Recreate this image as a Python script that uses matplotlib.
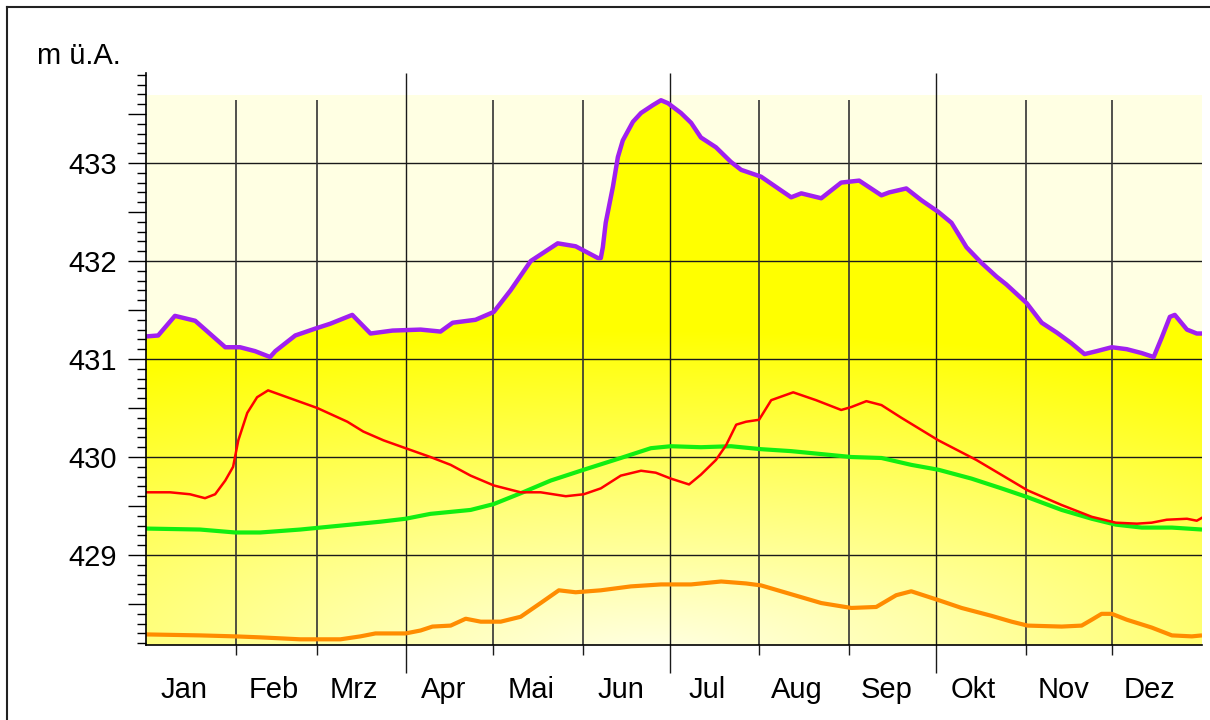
import numpy as np
import matplotlib
matplotlib.use('Agg')
import matplotlib.pyplot as plt
from matplotlib.patches import Polygon
from matplotlib.lines import Line2D
from matplotlib.ticker import FixedLocator, FuncFormatter
import matplotlib.transforms as mtransforms

plt.rcParams['font.family'] = ['Liberation Sans', 'DejaVu Sans']

# months (German)
months = ['Jan', 'Feb', 'Mrz', 'Apr', 'Mai', 'Jun', 'Jul', 'Aug', 'Sep', 'Okt', 'Nov', 'Dez']
month_starts = [0, 31, 59, 90, 120, 151, 181, 212, 243, 273, 304, 334, 365]
quarter_starts = [90, 181, 273]

# maximum water level (purple), day of year / m ü.A.
max_days = [0, 4.2, 10.0, 17.0, 27.4, 32.5, 37.7, 42.9, 44.7, 51.6, 58.5, 63.7, 71.3,
            77.6, 85.2, 94.9, 101.8, 106.0, 113.9, 120.2, 126.0, 133.0, 142.3, 148.5,
            156.2, 157.2, 157.9, 158.9, 161.4, 163.1, 164.8, 168.3, 171.1, 175.2, 178.0,
            180.4, 184.9, 188.4, 191.8, 197.0, 202.2, 205.7, 212.6, 219.5, 223.0, 226.5,
            233.4, 240.3, 246.5, 254.2, 256.9, 262.8, 268.0, 273.9, 278.4, 283.6, 288.8,
            294.0, 297.4, 304.4, 309.6, 314.8, 319.9, 324.4, 328.6, 333.8, 339.0, 344.2,
            348.3, 351.1, 353.9, 355.6, 359.8, 363.2, 365]
max_vals = [431.23, 431.24, 431.44, 431.39, 431.12, 431.12, 431.08, 431.02, 431.08,
            431.24, 431.31, 431.36, 431.45, 431.26, 431.29, 431.30, 431.28, 431.37,
            431.40, 431.48, 431.70, 432.00, 432.18, 432.15, 432.03, 432.03, 432.14,
            432.39, 432.76, 433.06, 433.23, 433.42, 433.51, 433.59, 433.64, 433.61,
            433.51, 433.41, 433.26, 433.16, 433.01, 432.93, 432.86, 432.72, 432.65,
            432.69, 432.64, 432.80, 432.82, 432.67, 432.70, 432.74, 432.62, 432.50,
            432.39, 432.14, 431.98, 431.84, 431.76, 431.57, 431.37, 431.27, 431.16,
            431.05, 431.08, 431.12, 431.10, 431.06, 431.02, 431.22, 431.43, 431.45,
            431.30, 431.26, 431.26]

# current year (red)
cur_days = [0, 8.3, 15.2, 20.4, 23.9, 27.4, 30.1, 31.9, 35.0, 38.4, 42.2, 48.8, 59.2,
            69.6, 75.1, 82.1, 89.7, 98.3, 105.3, 112.2, 120.2, 129.5, 136.4, 145.1,
            151.3, 157.2, 164.1, 171.1, 176.2, 181.4, 187.7, 191.8, 197.0, 200.5, 204.0,
            207.4, 211.9, 216.1, 223.7, 231.6, 240.3, 243.8, 249.0, 254.2, 261.1, 273.9,
            287.0, 304.7, 316.5, 326.9, 335.2, 342.5, 347.6, 352.8, 359.8, 363.2, 365]
cur_vals = [429.64, 429.64, 429.62, 429.58, 429.62, 429.76, 429.90, 430.17, 430.45,
            430.61, 430.68, 430.61, 430.50, 430.36, 430.26, 430.17, 430.09, 430.00,
            429.92, 429.81, 429.71, 429.64, 429.64, 429.60, 429.62, 429.68, 429.81,
            429.86, 429.84, 429.78, 429.72, 429.82, 429.97, 430.12, 430.33, 430.36,
            430.38, 430.58, 430.66, 430.58, 430.48, 430.51, 430.57, 430.53, 430.40,
            430.17, 429.97, 429.66, 429.51, 429.39, 429.33, 429.32, 429.33, 429.36,
            429.37, 429.35, 429.38]

# mean (green)
mean_days = [0, 18.7, 30.8, 39.5, 53.3, 67.2, 81.0, 89.7, 98.3, 112.2, 120.2, 129.5,
             139.9, 151.3, 164.1, 174.5, 181.4, 191.8, 202.2, 212.6, 223.0, 233.4, 243.8,
             254.2, 264.5, 273.9, 285.3, 295.7, 304.7, 316.5, 326.9, 335.2, 344.2, 354.6, 365]
mean_vals = [429.27, 429.26, 429.23, 429.23, 429.26, 429.30, 429.34, 429.37, 429.42,
             429.46, 429.52, 429.63, 429.76, 429.87, 429.99, 430.09, 430.11, 430.10,
             430.11, 430.08, 430.06, 430.03, 430.00, 429.99, 429.92, 429.87, 429.78,
             429.68, 429.59, 429.46, 429.37, 429.31, 429.28, 429.28, 429.26]

# minimum (orange)
min_days = [0, 18.7, 30.8, 39.5, 53.3, 67.2, 74.1, 79.3, 89.7, 94.9, 99.0, 105.3, 110.5,
            115.7, 122.6, 129.5, 136.4, 142.7, 148.5, 157.2, 167.6, 178.0, 188.4, 198.8,
            207.4, 212.6, 223.0, 233.4, 243.8, 252.4, 259.3, 264.5, 273.9, 281.9, 292.2,
            299.2, 304.7, 316.5, 323.4, 326.9, 330.3, 333.8, 339.0, 347.6, 354.6, 361.5, 365]
min_vals = [428.19, 428.18, 428.17, 428.16, 428.14, 428.14, 428.17, 428.20, 428.20,
            428.23, 428.27, 428.28, 428.35, 428.32, 428.32, 428.37, 428.51, 428.64,
            428.62, 428.64, 428.68, 428.70, 428.70, 428.73, 428.71, 428.69, 428.60,
            428.51, 428.46, 428.47, 428.59, 428.63, 428.54, 428.46, 428.38, 428.32,
            428.28, 428.27, 428.28, 428.34, 428.40, 428.40, 428.34, 428.26, 428.18,
            428.17, 428.18]

y0, y1 = 428.082, 433.918
FS = 21

fig = plt.figure(figsize=(12.1, 7.2), dpi=100)
ax = fig.add_axes([146/1210, 75/720, 1056/1210, 572/720])

# pale background of the plot area
ax.axhspan(y0, 433.69, color='#FFFFE3', lw=0, zorder=0)

# yellow gradient under the maximum line
H, W = 300, 600
U, V = np.meshgrid(np.linspace(0, 1, W), np.linspace(0, 1, H))
xp = U * 1056
yp = V * 572
t = np.sqrt(((xp - 504) / 1100) ** 2 + ((yp + 15) / 330) ** 2)
t = np.clip(t, 0, 1)
img = np.ones((H, W, 3))
img[..., 2] = (232 / 255) * (1 - t)
im = ax.imshow(img, extent=[0, 365, y0, y1], origin='lower', aspect='auto',
               interpolation='bilinear', zorder=1)
poly = Polygon([(0, y0)] + list(zip(max_days, max_vals)) + [(365, y0)], closed=True,
               facecolor='none', edgecolor='none', transform=ax.transData)
ax.add_patch(poly)
im.set_clip_path(poly)

# grid
ax.hlines([429, 430, 431, 432, 433], 0, 365, color='#1a1a1a', lw=1.0, zorder=2)
trans = mtransforms.blended_transform_factory(ax.transData, ax.transAxes)
for b in month_starts[1:-1]:
    if b in quarter_starts:
        ax.vlines(b, -28/572, 1, color='#1a1a1a', lw=1.0, transform=trans,
                  clip_on=False, zorder=2)
    else:
        ax.vlines(b, y0, 433.64, color='#333333', lw=1.2, zorder=2)
        ax.vlines(b, -10/572, 0, color='#1a1a1a', lw=1.0, transform=trans,
                  clip_on=False, zorder=2)

# curves
ax.plot(min_days, min_vals, color='#FF8C00', lw=3, zorder=4, solid_capstyle='butt')
ax.plot(mean_days, mean_vals, color='#11EE11', lw=3, zorder=4, solid_capstyle='butt')
ax.plot(cur_days, cur_vals, color='#FF0000', lw=1.8, zorder=5)
ax.plot(max_days, max_vals, color='#A020F0', lw=3.2, zorder=5, solid_capstyle='butt')

ax.set_xlim(0, 365)
ax.set_ylim(y0, y1)

# y axis
ax.yaxis.set_major_locator(FixedLocator(np.arange(428.5, 433.51, 0.5)))
ax.yaxis.set_minor_locator(FixedLocator(np.arange(428.1, 433.95, 0.1)))
ax.yaxis.set_major_formatter(FuncFormatter(
    lambda v, p: f'{v:.0f}' if abs(v - round(v)) < 1e-6 else ''))
ax.tick_params(axis='y', which='major', length=13, width=1, labelsize=FS, pad=8)
ax.tick_params(axis='y', which='minor', length=6.5, width=1)

# x axis: month names
ax.set_xticks([s + 13 for s in month_starts[:-1]])
ax.set_xticklabels(months)
ax.tick_params(axis='x', which='both', length=0, labelsize=FS, pad=22)

for side in ['top', 'right']:
    ax.spines[side].set_visible(False)
for side in ['left', 'bottom']:
    ax.spines[side].set_color('black')
    ax.spines[side].set_linewidth(1.2)
    ax.spines[side].set_zorder(6)

fig.text(37/1210, 1 - 56/720, 'm ü.A.', fontsize=FS, ha='left', va='center')

# outer frame
fig.add_artist(Line2D([7/1210, 7/1210], [0, 1 - 7/720], color='#222222', lw=1.5))
fig.add_artist(Line2D([7/1210, 1], [1 - 7/720, 1 - 7/720], color='#222222', lw=1.5))

fig.savefig('out.png', dpi=100)
